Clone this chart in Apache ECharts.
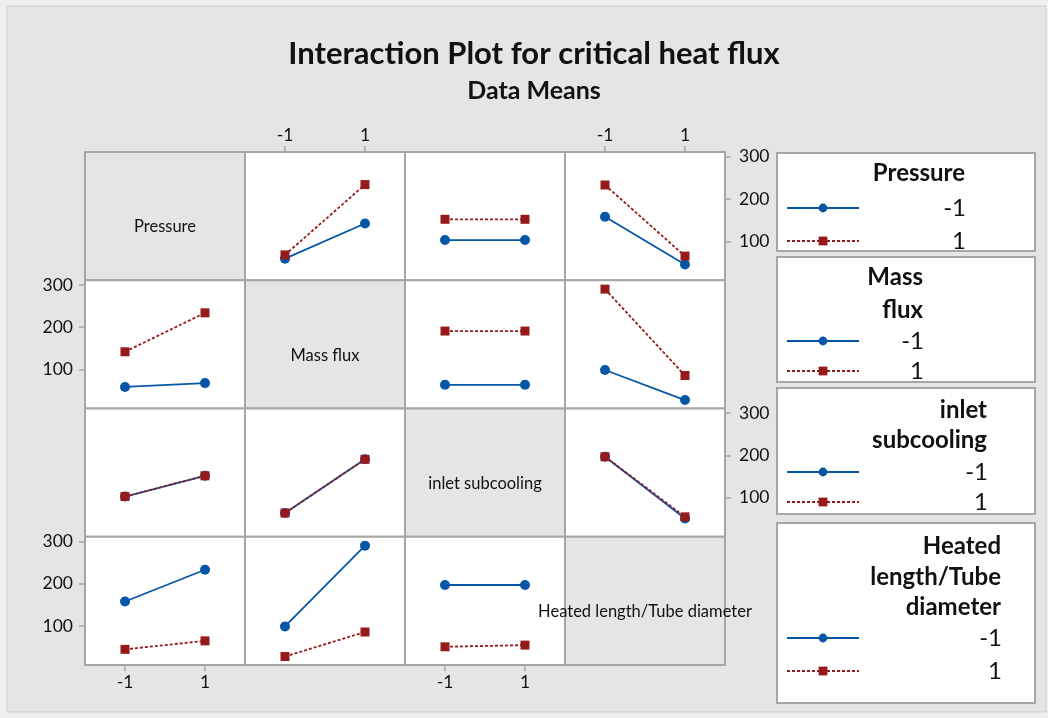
<!DOCTYPE html>
<html><head><meta charset="utf-8">
<script src="https://cdn.jsdelivr.net/npm/echarts@6/dist/echarts.min.js"></script>
<style>html,body{margin:0;padding:0;background:#efefef}#c{width:1048px;height:718px}</style>
</head><body><div id="c"></div>
<script>
// ---- data ----
const factors = ['Pressure', 'Mass flux', 'inlet subcooling', 'Heated length/Tube diameter'];
const legendTitles = [['Pressure'], ['Mass', 'flux'], ['inlet', 'subcooling'], ['Heated', 'length/Tube', 'diameter']];
const levels = [-1, 1];
const xTicks = [-1, 1];
const yTicks = [100, 200, 300];
const yRange = [8, 311];
const xRange = [-2, 2];
// means[levelOfFirst][levelOfSecond]
const meansPressureMass   = [[59, 142], [68, 234]];
const meansPressureInlet  = [[103, 103], [152, 152]];
const meansPressureHeated = [[158, 45], [233, 65]];
const meansMassInlet      = [[64, 64], [191, 191]];
const meansMassHeated     = [[99, 28], [290, 86]];
const meansInletHeated    = [[197, 51], [197, 55]];

const pairMeans = {
  '0-1': meansPressureMass, '0-2': meansPressureInlet, '0-3': meansPressureHeated,
  '1-2': meansMassInlet, '1-3': meansMassHeated, '2-3': meansInletHeated
};
function means(i, j) {
  if (i < j) return pairMeans[i + '-' + j];
  const m = pairMeans[j + '-' + i];
  return [[m[0][0], m[1][0]], [m[0][1], m[1][1]]];
}

const FONT = 'Lato';
const TXT = '#111';
const BORDER = '#a6a6a6';
const BLUE = '#0656a8';
const RED = '#971a1a';
const GL = 85, GT = 152, CW = 160, CH = 128.25;

const grids = [], xAxes = [], yAxes = [], series = [], graphics = [];

graphics.push({ type: 'rect', shape: { x: 7, y: 6, width: 1039, height: 706 },
  style: { fill: '#e5e5e5', stroke: '#cdcdcd', lineWidth: 1 }, z: -10, silent: true });

for (let i = 0; i < 4; i++) {
  for (let j = 0; j < 4; j++) {
    const idx = grids.length;
    const diag = i === j;
    grids.push({ left: GL + j * CW, top: GT + i * CH, width: CW, height: CH, show: true,
      backgroundColor: diag ? '#e5e5e5' : '#ffffff', borderColor: BORDER, borderWidth: 2 });
    const xTop = i === 0 && j % 2 === 1;
    const xBot = i === 3 && j % 2 === 0;
    const showX = !diag && (xTop || xBot);
    const yRight = j === 3 && i % 2 === 0;
    const yLeft = j === 0 && i % 2 === 1;
    const showY = !diag && (yRight || yLeft);
    xAxes.push({ gridIndex: idx, type: 'value', min: xRange[0], max: xRange[1],
      position: xTop ? 'top' : 'bottom',
      axisLine: { show: false, onZero: false }, splitLine: { show: false },
      axisTick: { show: showX, customValues: xTicks, length: 6, lineStyle: { color: BORDER, width: 1.5 } },
      axisLabel: { show: showX, customValues: xTicks, margin: 8, fontSize: 17.5, color: TXT, fontFamily: FONT } });
    yAxes.push({ gridIndex: idx, type: 'value', min: yRange[0], max: yRange[1],
      position: yRight ? 'right' : 'left',
      axisLine: { show: false, onZero: false }, splitLine: { show: false },
      axisTick: { show: showY, customValues: yTicks, length: 6, lineStyle: { color: BORDER, width: 1.5 } },
      axisLabel: { show: showY, customValues: yTicks, margin: yRight ? 14 : 12, fontSize: 17.5, color: TXT, fontFamily: FONT } });
    if (!diag) {
      const M = means(i, j);
      levels.forEach((lv, k) => {
        series.push({
          type: 'line', name: factors[i] + ' ' + lv, xAxisIndex: idx, yAxisIndex: idx,
          data: levels.map((x, m) => [x, M[k][m]]),
          symbol: k === 0 ? 'circle' : 'rect', symbolSize: k === 0 ? 10 : 9,
          itemStyle: { color: k === 0 ? BLUE : RED },
          lineStyle: { color: k === 0 ? BLUE : RED, width: 1.8, type: k === 0 ? 'solid' : [3, 2] },
          z: k === 0 ? 2 : 3, animation: false, silent: true
        });
      });
    } else {
      graphics.push({ type: 'text', x: GL + j * CW + CW / 2, y: GT + i * CH + CH / 2 + 11, z: 10,
        style: { text: factors[i], fill: TXT, font: '16.5px ' + FONT, textAlign: 'center', textVerticalAlign: 'middle' } });
    }
  }
}

// legend boxes
const boxes = [
  { top: 153, bottom: 251, right: 965, titleY: [173], items: [208, 241] },
  { top: 257, bottom: 382, right: 923, titleY: [277, 310], items: [341, 371] },
  { top: 388, bottom: 514, right: 987, titleY: [410, 440], items: [472, 502] },
  { top: 523, bottom: 703, right: 1001, titleY: [546, 577, 607], items: [638, 671] }
];
const LFS = 24;
const legends = [];
boxes.forEach((b, i) => {
  graphics.push({ type: 'rect', shape: { x: 777, y: b.top, width: 258, height: b.bottom - b.top },
    style: { fill: '#ffffff', stroke: BORDER, lineWidth: 2 }, z: 0, silent: true });
  legendTitles[i].forEach((t, r) => {
    graphics.push({ type: 'text', x: b.right, y: b.titleY[r], z: 10,
      style: { text: t, fill: TXT, font: 'bold ' + LFS + 'px ' + FONT, textAlign: 'right', textVerticalAlign: 'middle' } });
  });
  const w = b.right - (786 + 72 + 5);
  legends.push({
    data: levels.map(lv => factors[i] + ' ' + lv), orient: 'vertical', left: 786, top: b.items[0] - LFS / 2,
    itemWidth: 72, itemHeight: 11, itemGap: (b.items[1] - b.items[0]) - LFS, padding: 0, selectedMode: false,
    formatter: name => '{v|' + name.split(' ').pop() + '}',
    textStyle: { rich: { v: { width: w, align: 'right', fontSize: LFS, lineHeight: LFS, fontFamily: FONT, color: TXT } } }
  });
});

const chart = echarts.init(document.getElementById('c'), null, { renderer: 'canvas' });
chart.setOption({
  backgroundColor: 'transparent',
  animation: false,
  title: { text: 'Interaction Plot for critical heat flux', subtext: 'Data Means',
    left: 534, top: 38, textAlign: 'center', padding: 0, itemGap: 9,
    textStyle: { fontSize: 31, fontWeight: 'bold', fontFamily: FONT, color: TXT },
    subtextStyle: { fontSize: 25, fontWeight: 'bold', fontFamily: FONT, color: TXT } },
  grid: grids, xAxis: xAxes, yAxis: yAxes, series: series,
  legend: legends, graphic: graphics
});
</script></body></html>
